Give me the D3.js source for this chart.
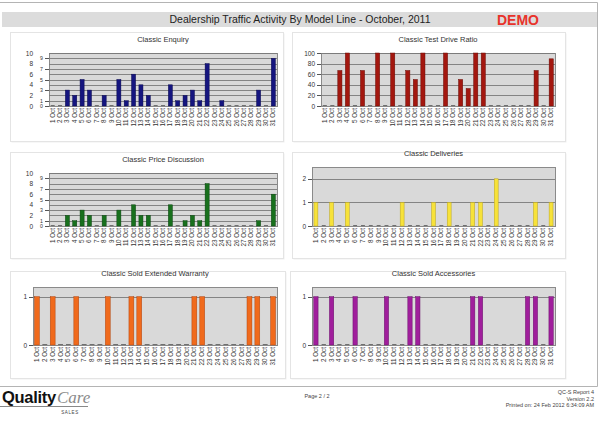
<!DOCTYPE html>
<html>
<head>
<meta charset="utf-8">
<script src="https://cdn.jsdelivr.net/npm/d3@7"></script>
<style>
  body { margin: 0; background: #fff; }
  svg { display: block; font-family: "Liberation Sans", Arial, sans-serif; }
  .axis path, .axis line { stroke: #555; shape-rendering: crispEdges; }
  .axis text { fill: #333; }
</style>
</head>
<body>
<div id="chart"></div>
<script>
// categories
var days = ["1 Oct","2 Oct","3 Oct","4 Oct","5 Oct","6 Oct","7 Oct","8 Oct","9 Oct","10 Oct",
  "11 Oct","12 Oct","13 Oct","14 Oct","15 Oct","16 Oct","17 Oct","18 Oct","19 Oct","20 Oct",
  "21 Oct","22 Oct","23 Oct","24 Oct","25 Oct","26 Oct","27 Oct","28 Oct","29 Oct","30 Oct","31 Oct"];

// series values (one per day)
var enquiry     = [0,0,3,2,5,3,0,2,0,5,1,6,4,2,0,0,4,1,2,3,1,8,0,1,0,0,0,0,3,0,9];
var testDrive   = [0,0,67,100,0,67,0,100,0,100,0,67,50,100,0,0,100,0,50,33,100,100,0,0,0,0,0,0,67,0,89];
var priceDisc   = [0,0,2,1,3,2,0,2,0,3,0,4,2,2,0,0,4,0,1,2,1,8,0,0,0,0,0,0,1,0,6];
var deliveries  = [1,0,1,0,1,0,0,0,0,0,0,1,0,0,0,1,0,1,0,0,1,1,0,2,0,0,0,0,1,0,1];
var warranty    = [1,0,1,0,0,1,0,0,0,1,0,0,1,1,0,0,0,0,0,0,1,1,0,0,0,0,0,1,1,0,1];
var accessories = [1,0,1,0,0,1,0,0,0,1,0,0,1,1,0,0,0,0,0,0,1,1,0,0,0,0,0,1,1,0,1];

// tick labels
var countOuterTicks = [0,2,4,6,8,10];
var countInnerTicks = [0,1,3,5,7,9];
var countGrid       = [1,2,3,4,5,6,7,8,9,10];
var ratioTicks      = [0,20,40,60,80,100];
var deliveryTicks   = [0,1,2];
var unitTicks       = [0,1];

var width = 599, height = 431;

var svg = d3.select("#chart").append("svg")
  .attr("width", width)
  .attr("height", height);

// page frame
svg.append("path")
  .attr("d", "M0,2.5 H597.5 V386.5 H0")
  .attr("fill", "none")
  .attr("stroke", "#b4b4b4");

// header band
svg.append("rect")
  .attr("x", 2).attr("y", 12)
  .attr("width", 595).attr("height", 15)
  .attr("fill", "#dcdcdc");

svg.append("text")
  .attr("x", 300).attr("y", 23)
  .attr("text-anchor", "middle")
  .attr("font-size", 10.5)
  .attr("fill", "#222")
  .text("Dealership Traffic Activity By Model Line - October, 2011");

svg.append("text")
  .attr("x", 518).attr("y", 24.5)
  .attr("text-anchor", "middle")
  .attr("font-size", 14)
  .attr("font-weight", "bold")
  .attr("fill", "#e8322a")
  .text("DEMO");

// chart panels
var panels = [
  { title: "Classic Enquiry", values: enquiry, color: "#15157f", stroke: "#0a0a50",
    box: [10, 32, 283, 141], plot: [49, 53, 277, 106], max: 10,
    ticks: countInnerTicks, outer: countOuterTicks, grid: countGrid, bw: 0.55 },
  { title: "Classic Test Drive Ratio", values: testDrive, color: "#a3170f", stroke: "#6a0c06",
    box: [292, 32, 565, 141], plot: [321, 53, 555, 106], max: 100,
    ticks: ratioTicks, grid: ratioTicks.slice(1), bw: 0.55 },
  { title: "Classic Price Discussion", values: priceDisc, color: "#18701d", stroke: "#0b4510",
    box: [10, 152, 283, 258], plot: [49, 173, 277, 226], max: 10,
    ticks: countInnerTicks, outer: countOuterTicks, grid: countGrid, bw: 0.55 },
  { title: "Classic Deliveries", values: deliveries, color: "#f7e23a", stroke: "#b8a420",
    box: [292, 152, 565, 258], plot: [312, 167, 555, 226], max: 2.5,
    ticks: deliveryTicks, grid: [1, 2], bw: 0.5 },
  { title: "Classic Sold Extended Warranty", values: warranty, color: "#f06a1c", stroke: "#b04510",
    box: [10, 271, 285, 378], plot: [33, 287, 277, 345], max: 1.2,
    ticks: unitTicks, grid: [1], bw: 0.62 },
  { title: "Classic Sold Accessories", values: accessories, color: "#a01e9c", stroke: "#6a106a",
    box: [290, 271, 565, 378], plot: [312, 287, 555, 345], max: 1.2,
    ticks: unitTicks, grid: [1], bw: 0.55 }
];

panels.forEach(drawPanel);

function drawPanel(p) {
  var g = svg.append("g");
  var b = p.box;

  // panel card with a soft shadow
  g.append("rect")
    .attr("x", b[0] + 1.5).attr("y", b[1] + 1.5)
    .attr("width", b[2] - b[0]).attr("height", b[3] - b[1])
    .attr("fill", "#f0f0f0");
  g.append("rect")
    .attr("x", b[0] + 0.5).attr("y", b[1] + 0.5)
    .attr("width", b[2] - b[0]).attr("height", b[3] - b[1])
    .attr("fill", "#fff")
    .attr("stroke", "#e4e4e4");

  var x0 = p.plot[0], y0 = p.plot[1], x1 = p.plot[2], y1 = p.plot[3];

  g.append("text")
    .attr("x", (x0 + x1) / 2).attr("y", y0 - 11)
    .attr("text-anchor", "middle")
    .attr("font-size", 7.5)
    .attr("fill", "#333")
    .text(p.title);

  var x = d3.scaleBand()
    .domain(days)
    .range([x0, x1])
    .paddingInner(1 - p.bw)
    .paddingOuter((1 - p.bw) / 2);

  var y = d3.scaleLinear()
    .domain([0, p.max])
    .range([y1, y0]);

  // plot background
  g.append("rect")
    .attr("x", x0).attr("y", y0)
    .attr("width", x1 - x0).attr("height", y1 - y0)
    .attr("fill", "#d9d9d9")
    .attr("stroke", "#8a8a8a")
    .attr("shape-rendering", "crispEdges");

  // grid lines
  g.selectAll(".grid")
    .data(p.grid)
    .enter()
    .append("line")
    .attr("x1", x0).attr("x2", x1)
    .attr("y1", function(d) { return Math.round(y(d)) + 0.5; })
    .attr("y2", function(d) { return Math.round(y(d)) + 0.5; })
    .attr("stroke", "#7a7a7a")
    .attr("stroke-width", 0.9);

  // bars
  g.selectAll(".bar")
    .data(p.values)
    .enter()
    .append("rect")
    .attr("x", function(d, i) { return x(days[i]); })
    .attr("width", x.bandwidth())
    .attr("y", function(d) { return d > 0 ? y(d) : y1 - 0.8; })
    .attr("height", function(d) { return d > 0 ? y1 - y(d) : 0.8; })
    .attr("fill", function(d) { return d > 0 ? p.color : "#555"; })
    .attr("stroke", function(d) { return d > 0 ? p.stroke : "none"; })
    .attr("stroke-width", 0.5);

  // y axis
  var yAxis = d3.axisLeft(y)
    .tickValues(p.ticks)
    .tickSize(4)
    .tickPadding(2)
    .tickFormat(d3.format("d"));

  var ya = g.append("g")
    .attr("class", "axis")
    .attr("transform", "translate(" + x0 + ",0)")
    .call(yAxis);
  ya.select(".domain").remove();
  ya.selectAll("text").attr("font-size", p.outer ? 5.2 : 6.5);

  // second set of labels on the count charts
  if (p.outer) {
    var yOuter = d3.axisLeft(y)
      .tickValues(p.outer)
      .tickSize(0)
      .tickPadding(0)
      .tickFormat(d3.format("d"));
    var yo = g.append("g")
      .attr("class", "axis")
      .attr("transform", "translate(" + (x0 - 16) + ",0)")
      .call(yOuter);
    yo.select(".domain").remove();
    yo.selectAll("text").attr("font-size", 6.5);
  }

  // x axis labels, rotated
  var xAxis = d3.axisBottom(x)
    .tickSize(0)
    .tickPadding(0);

  var xa = g.append("g")
    .attr("class", "axis")
    .attr("transform", "translate(0," + y1 + ")")
    .call(xAxis);
  xa.select(".domain").remove();
  xa.selectAll("text")
    .attr("font-size", 6.3)
    .attr("text-anchor", "end")
    .attr("dy", "0.32em")
    .attr("transform", "translate(0,2) rotate(-90)")
    .attr("x", 0)
    .attr("y", 0);
}

// footer
svg.append("text")
  .attr("x", 2).attr("y", 403)
  .attr("font-size", 16.5)
  .attr("font-weight", "bold")
  .attr("fill", "#111")
  .attr("letter-spacing", -0.3)
  .text("Quality");

svg.append("text")
  .attr("x", 57).attr("y", 403)
  .attr("font-family", "Liberation Serif, serif")
  .attr("font-style", "italic")
  .attr("font-size", 17)
  .attr("fill", "#8a8a8a")
  .text("Care");

svg.append("line")
  .attr("x1", 0).attr("x2", 88)
  .attr("y1", 406.5).attr("y2", 406.5)
  .attr("stroke", "#888");

svg.append("text")
  .attr("x", 70).attr("y", 414)
  .attr("text-anchor", "middle")
  .attr("font-size", 4.5)
  .attr("letter-spacing", 0.6)
  .attr("fill", "#444")
  .text("SALES");

svg.append("text")
  .attr("x", 317).attr("y", 398)
  .attr("text-anchor", "middle")
  .attr("font-size", 5.5)
  .attr("fill", "#444")
  .text("Page 2 / 2");

var footRight = ["QC-S Report 4", "Version 2.2", "Printed on: 24 Feb 2012 6:34:09 AM"];
svg.selectAll(".foot")
  .data(footRight)
  .enter()
  .append("text")
  .attr("x", 594)
  .attr("y", function(d, i) { return 394 + i * 6.5; })
  .attr("text-anchor", "end")
  .attr("font-size", 5.5)
  .attr("fill", "#444")
  .text(function(d) { return d; });
</script>
</body>
</html>
